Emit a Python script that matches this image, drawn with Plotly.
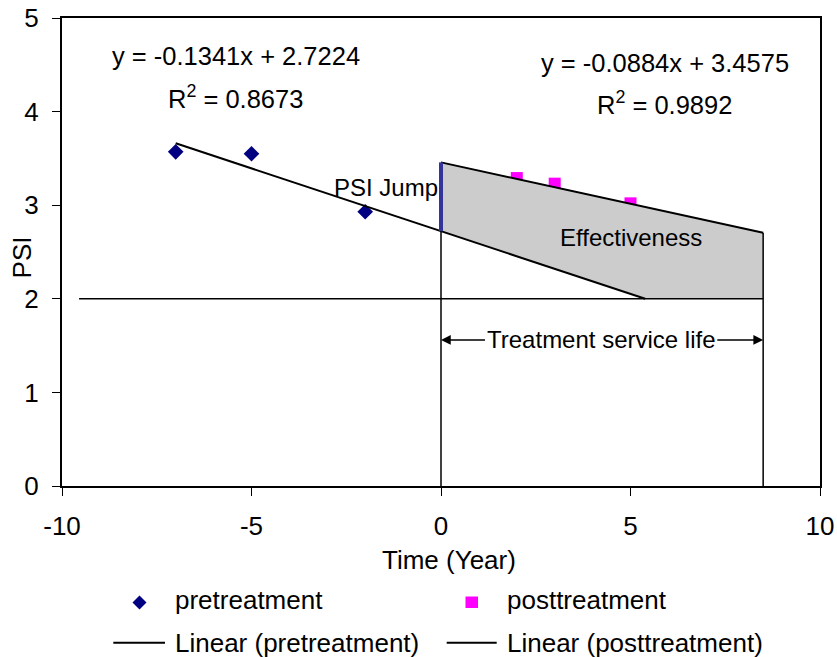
import plotly.graph_objects as go

# Observed PSI values before and after the treatment
pre_x = [-7, -5, -2]
pre_y = [3.57, 3.55, 2.93]
post_x = [2, 3, 5]
post_y = [3.29, 3.23, 3.02]

# Linear trend fits (slope, intercept, R^2)
pre_slope, pre_icpt, pre_r2 = -0.1341, 2.7224, 0.8673
post_slope, post_icpt, post_r2 = -0.0884, 3.4575, 0.9892

psi_threshold = 2.0
treatment_time = 0.0
service_life_end = 8.5
threshold_start = -9.55

x_ticks = [-10, -5, 0, 5, 10]
y_ticks = [0, 1, 2, 3, 4, 5]

FONT = "Liberation Sans, Arial, sans-serif"
W, H = 837, 657
ML, MR, MT, MB = 62, 17, 18, 171


def px(xp):
    return (xp - ML) / (W - ML - MR)


def py(yp):
    return (H - MB - yp) / (H - MT - MB)


def pre_fit(x):
    return pre_slope * x + pre_icpt


def post_fit(x):
    return post_slope * x + post_icpt


# where the pre-treatment trend falls to the threshold
pre_hit = (psi_threshold - pre_icpt) / pre_slope

fig = go.Figure()

fig.add_trace(go.Scatter(
    x=pre_x, y=pre_y, mode="markers", name="pretreatment",
    marker=dict(symbol="diamond", size=12, color="#000080"),
))
fig.add_trace(go.Scatter(
    x=post_x, y=post_y, mode="markers", name="posttreatment",
    marker=dict(symbol="square", size=12, color="#FF00FF"),
))

# effectiveness area between the two trends above the threshold
fig.add_trace(go.Scatter(
    x=[treatment_time, service_life_end, service_life_end, pre_hit, treatment_time],
    y=[post_fit(treatment_time), post_fit(service_life_end), psi_threshold,
       psi_threshold, pre_fit(treatment_time)],
    mode="lines", fill="toself", fillcolor="#CCCCCC",
    line=dict(width=0), hoverinfo="skip",
))

# threshold line
fig.add_trace(go.Scatter(
    x=[threshold_start, service_life_end], y=[psi_threshold, psi_threshold],
    mode="lines", line=dict(color="black", width=1.5),
))
# verticals at treatment time and at end of service life
fig.add_trace(go.Scatter(
    x=[treatment_time, treatment_time], y=[0, pre_fit(treatment_time)],
    mode="lines", line=dict(color="black", width=1.5),
))
fig.add_trace(go.Scatter(
    x=[service_life_end, service_life_end], y=[0, post_fit(service_life_end)],
    mode="lines", line=dict(color="black", width=1.5),
))

# trend lines
fig.add_trace(go.Scatter(
    x=[pre_x[0], pre_hit], y=[pre_fit(pre_x[0]), psi_threshold],
    mode="lines", name="Linear (pretreatment)", line=dict(color="black", width=2),
))
fig.add_trace(go.Scatter(
    x=[treatment_time, service_life_end],
    y=[post_fit(treatment_time), post_fit(service_life_end)],
    mode="lines", name="Linear (posttreatment)", line=dict(color="black", width=2),
))

# PSI jump at treatment
fig.add_trace(go.Scatter(
    x=[treatment_time, treatment_time],
    y=[pre_fit(treatment_time), post_fit(treatment_time)],
    mode="lines", line=dict(color="#333399", width=4),
))

ann_font = dict(family=FONT, size=24, color="black")
eq_font = dict(family=FONT, size=25.5, color="black")
txt_font = dict(family=FONT, size=26, color="black")

annotations = [
    dict(x=-5.41, y=4.59, text=f"y = {pre_slope}x + {pre_icpt}", font=eq_font),
    dict(x=-5.41, y=4.16, text=f"R<sup>2</sup> = {pre_r2}", font=eq_font),
    dict(x=5.91, y=4.52, text=f"y = {post_slope}x + {post_icpt}", font=eq_font),
    dict(x=5.91, y=4.09, text=f"R<sup>2</sup> = {post_r2}", font=eq_font),
    dict(x=-1.45, y=3.19, text="PSI Jump", font=ann_font),
    dict(x=5.01, y=2.65, text="Effectiveness", font=ann_font),
    dict(x=4.24, y=1.57, text="Treatment service life", font=ann_font),
]
for a in annotations:
    a.update(xref="x", yref="y", showarrow=False, xanchor="center", yanchor="middle")

# double-headed arrow for the service life
for head, tail in [(treatment_time, 1.2), (service_life_end, 7.25)]:
    annotations.append(dict(
        x=head, y=1.56, ax=tail, ay=1.56, xref="x", yref="y", axref="x", ayref="y",
        text="", showarrow=True, arrowhead=2, arrowsize=1.3, arrowwidth=1.5,
        arrowcolor="black",
    ))

# axis titles
annotations.append(dict(x=px(449), y=py(560), xref="paper", yref="paper",
                        xanchor="center", yanchor="middle",
                        text="Time (Year)", showarrow=False, font=txt_font))
annotations.append(dict(x=px(21.7), y=py(257.7), xref="paper", yref="paper",
                        xanchor="center", yanchor="middle",
                        text="PSI", textangle=-90, showarrow=False, font=txt_font))

# legend entries
legend_text = [
    ("pretreatment", 172.7, 600),
    ("posttreatment", 505, 600),
    ("Linear (pretreatment)", 172.7, 643),
    ("Linear (posttreatment)", 505, 643),
]
for txt, lx, ly in legend_text:
    annotations.append(dict(x=px(lx), y=py(ly), xref="paper", yref="paper",
                            text=txt, showarrow=False, xanchor="left",
                            yanchor="middle", font=txt_font))

cx, cy, r = 139.5, 602.5, 7
shapes = [
    dict(type="path", xref="paper", yref="paper",
         path=(f"M{px(cx)},{py(cy - r)} L{px(cx + r)},{py(cy)} "
               f"L{px(cx)},{py(cy + r)} L{px(cx - r)},{py(cy)} Z"),
         fillcolor="#000080", line=dict(width=0)),
    dict(type="rect", xref="paper", yref="paper",
         x0=px(465.5), x1=px(478), y0=py(608), y1=py(596.5),
         fillcolor="#FF00FF", line=dict(width=0)),
    dict(type="line", xref="paper", yref="paper",
         x0=px(113.3), x1=px(165), y0=py(642.7), y1=py(642.7),
         line=dict(color="black", width=2)),
    dict(type="line", xref="paper", yref="paper",
         x0=px(446.7), x1=px(496.7), y0=py(642.7), y1=py(642.7),
         line=dict(color="black", width=2)),
]

fig.update_layout(
    width=W, height=H,
    margin=dict(l=ML, r=MR, t=MT, b=MB, pad=0),
    paper_bgcolor="white", plot_bgcolor="white",
    showlegend=False,
    font=dict(family=FONT, size=26, color="black"),
    annotations=annotations,
    shapes=shapes,
)
fig.update_xaxes(
    range=[-10, 10], tickvals=x_ticks, ticktext=[str(v) for v in x_ticks],
    showgrid=False, zeroline=False, showline=True, linecolor="black", linewidth=2,
    mirror=True, ticks="outside", ticklen=8, tickwidth=1, tickcolor="black",
    ticklabelstandoff=8, tickfont=dict(family=FONT, size=26), automargin=False,
)
fig.update_yaxes(
    range=[0, 5], tickvals=y_ticks, ticktext=[str(v) for v in y_ticks],
    showgrid=False, zeroline=False, showline=True, linecolor="black", linewidth=2,
    mirror=True, ticks="outside", ticklen=8, tickwidth=1, tickcolor="black",
    ticklabelstandoff=8, tickfont=dict(family=FONT, size=26), automargin=False,
)

fig.write_html("out.html")
